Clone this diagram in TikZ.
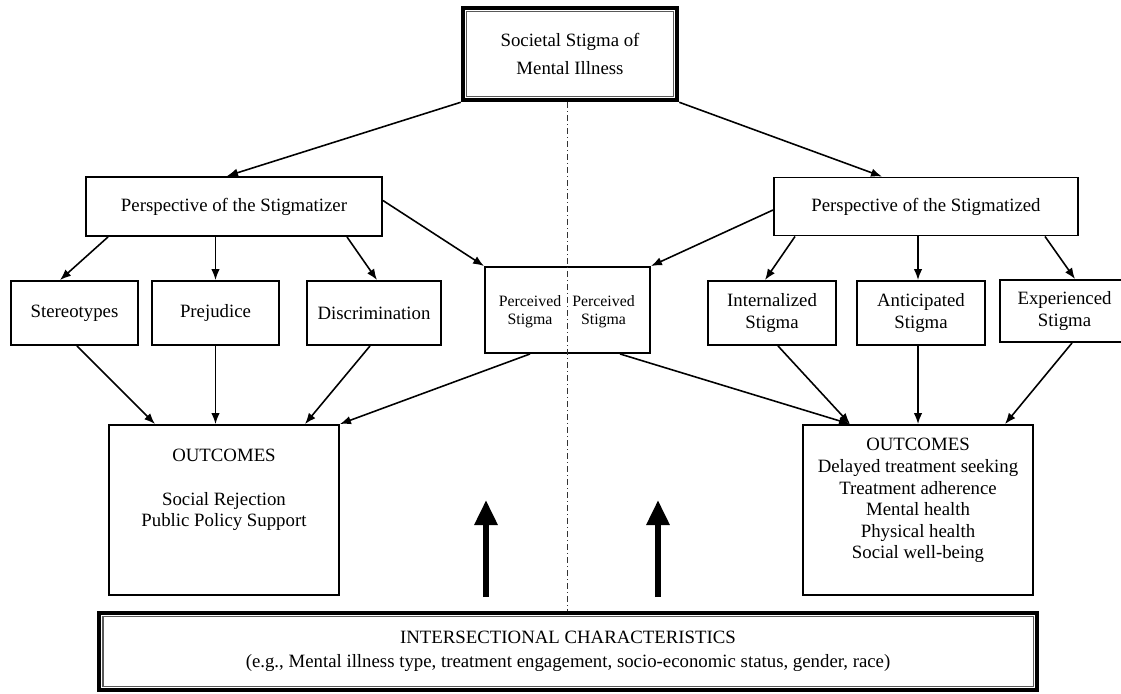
\documentclass[tikz,border=0pt]{standalone}
\usepackage{fontspec}
\setmainfont{Liberation Serif}
\usetikzlibrary{arrows.meta,positioning}

\tikzset{
  box/.style={draw, line width=1.1pt, align=center, inner sep=0pt, font=\fontsize{10.7}{12.3}\selectfont},
  frame/.style={box, line width=2.6pt},
  inner/.style={gray!70!black, line width=0.8pt},
  list/.style={align=center, inner sep=0pt, font=\fontsize{10.7}{12.3}\selectfont},
  small/.style={align=center, inner sep=0pt, font=\fontsize{9}{10.4}\selectfont},
  arr/.style={line width=0.9pt, -{Latex[length=2.2mm,width=1.7mm]}},
  bigarr/.style={line width=3.4pt, -{Triangle[length=5mm,width=4.4mm]}},
  split/.style={dash dot, line width=0.5pt, black!80}
}

\begin{document}
\begin{tikzpicture}[x=0.02cm, y=-0.02cm]
\useasboundingbox (0,0) rectangle (1121,693);

\node[frame, minimum width=4.28cm, minimum height=1.84cm, font=\fontsize{10.7}{16.4}\selectfont] (societal) at (570,54) {Societal Stigma of\\Mental Illness};
\draw[inner] ([shift={(6,6)}]societal.north west) rectangle ([shift={(-6,-6)}]societal.south east);

\node[box, minimum width=5.92cm, minimum height=1.18cm] (stigmatizer) at (234,206.5) {Perspective of the Stigmatizer};
\node[box, minimum width=6.08cm, minimum height=1.16cm] (stigmatized) at (926,206.5) {Perspective of the Stigmatized};

\node[box, minimum width=2.54cm, minimum height=1.28cm] (stereotypes) at (74.5,313) {Stereotypes};
\node[box, minimum width=2.54cm, minimum height=1.28cm] (prejudice) at (215.5,313) {Prejudice};
\node[box, minimum width=2.68cm, minimum height=1.28cm] (discrimination) at (374,313) {Discrimination};

\node[box, minimum width=3.3cm, minimum height=1.72cm] (perceived) at (567.5,310) {};
\node[small] (perceivedL) at (530,312) {Perceived\\Stigma};
\node[small] (perceivedR) at (603.5,312) {Perceived\\Stigma};

\node[box, minimum width=2.56cm, minimum height=1.28cm] (internalized) at (772,313) {Internalized\\Stigma};
\node[box, minimum width=2.56cm, minimum height=1.28cm] (anticipated) at (921,313) {Anticipated\\Stigma};
\node[box, minimum width=2.58cm, minimum height=1.24cm] (experienced) at (1064.5,311) {Experienced\\Stigma};

\node[box, minimum width=4.6cm, minimum height=3.4cm] (outcomesL) at (224,510) {};
\node[list, below=0.5cm of outcomesL.north] (listL) {OUTCOMES\\[12.3pt]Social Rejection\\Public Policy Support};
\node[box, minimum width=4.6cm, minimum height=3.4cm] (outcomesR) at (918,510) {};
\node[list, below=0.28cm of outcomesR.north] (listR) {OUTCOMES\\Delayed treatment seeking\\Treatment adherence\\Mental health\\Physical health\\Social well-being};

\node[frame, minimum width=18.76cm, minimum height=1.54cm, font=\fontsize{10.7}{13.6}\selectfont] (intersect) at (568,651.5) {INTERSECTIONAL CHARACTERISTICS\\(e.g., Mental illness type, treatment engagement, socio-economic status, gender, race)};
\draw[inner] ([shift={(6,6)}]intersect.north west) rectangle ([shift={(-6,-6)}]intersect.south east);

\draw[split] ([shift={(-3,0)}]societal.south) -- ([shift={(-1,0)}]intersect.north);

\draw[arr] (societal.south west) -- ([shift={(-7,0)}]stigmatizer.north);
\draw[arr] (societal.south east) -- ([shift={(-44,0)}]stigmatized.north);
\draw[arr] ([shift={(0,-6)}]stigmatizer.east) -- (perceived.north west);
\draw[arr] ([shift={(0,3.5)}]stigmatized.west) -- (perceived.north east);

\draw[arr] ([shift={(-126,0)}]stigmatizer.south) -- ([shift={(-14.5,0)}]stereotypes.north);
\draw[arr] (prejudice.north |- stigmatizer.south) -- (prejudice.north);
\draw[arr] ([shift={(113,0)}]stigmatizer.south) -- ([shift={(3,0)}]discrimination.north);
\draw[arr] ([shift={(-131,0)}]stigmatized.south) -- ([shift={(-7,0)}]internalized.north);
\draw[arr] ([shift={(-3,0)}]anticipated.north |- stigmatized.south) -- ([shift={(-3,0)}]anticipated.north);
\draw[arr] ([shift={(119,0)}]stigmatized.south) -- ([shift={(10.5,0)}]experienced.north);

\draw[arr] ([shift={(2.5,0)}]stereotypes.south) -- ([shift={(-69,0)}]outcomesL.north);
\draw[arr] (prejudice.south) -- (prejudice.south |- outcomesL.north);
\draw[arr] ([shift={(-4,0)}]discrimination.south) -- ([shift={(81,0)}]outcomesL.north);
\draw[arr] ([shift={(-37.5,0)}]perceived.south) -- (outcomesL.north east);
\draw[arr] ([shift={(52.5,0)}]perceived.south) -- ([shift={(-68,0)}]outcomesR.north);
\draw[arr] ([shift={(6,0)}]internalized.south) -- ([shift={(-68,0)}]outcomesR.north);
\draw[arr] ([shift={(-3,0)}]anticipated.south) -- (outcomesR.north);
\draw[arr] ([shift={(7.5,0)}]experienced.south) -- ([shift={(87,0)}]outcomesR.north);

\coordinate (baseL) at (486,597);
\coordinate (tipL) at (486,500);
\coordinate (baseR) at (658,597);
\coordinate (tipR) at (658,500);
\draw[bigarr] (baseL) -- (tipL);
\draw[bigarr] (baseR) -- (tipR);
\end{tikzpicture}
\end{document}
